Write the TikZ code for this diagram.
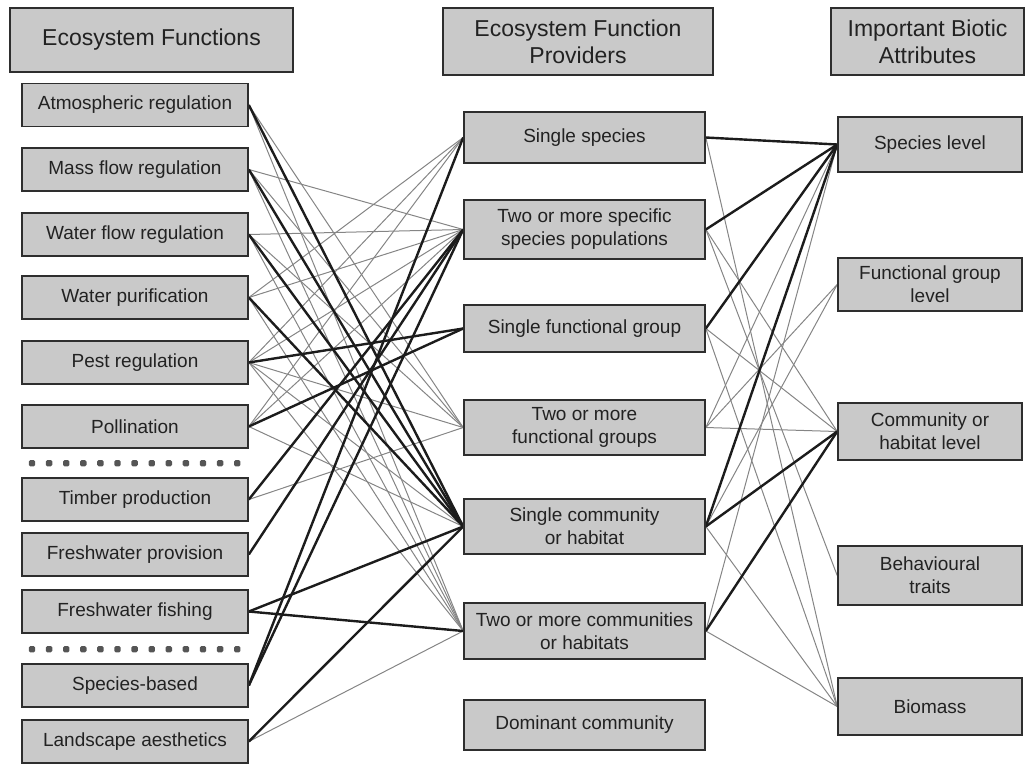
\documentclass[tikz,border=0pt]{standalone}
\usepackage{fontspec}
\setmainfont{Liberation Sans}
\usetikzlibrary{backgrounds}
\definecolor{boxfill}{HTML}{C9C9C9}
\definecolor{boxline}{HTML}{2E2E2E}
\definecolor{txt}{HTML}{222222}
\definecolor{thickc}{HTML}{1C1C1C}
\definecolor{thinc}{HTML}{858585}
\definecolor{dotc}{HTML}{555555}
\tikzset{
  box/.style={draw=boxline, line width=1.6pt, fill=boxfill, text=txt, align=center, inner sep=0pt,
     font=\fontsize{19}{23}\selectfont},
  head/.style={box, font=\fontsize{23}{27}\selectfont},
  lbox/.style={box, minimum width=226pt, minimum height=43pt},
  mbox/.style={box, minimum width=241pt},
  rbox/.style={box, minimum width=184pt},
  strong/.style={draw=thickc, line width=2.4pt},
  weak/.style={draw=thinc, line width=1pt},
}
\begin{document}
\begin{tikzpicture}[x=1pt,y=-1pt]
\useasboundingbox (0,0) rectangle (1032,764);
% headers
\node[head, minimum width=283pt, minimum height=64pt] (H1) at (151.5,40) {Ecosystem Functions};
\node[head, minimum width=270pt, minimum height=67pt] (H2) at (578,41.5) {Ecosystem Function\\Providers};
\node[head, minimum width=193pt, minimum height=67pt] (H3) at (927.5,41.5) {Important Biotic\\Attributes};
% left column
\node[lbox] (AR) at (135,105) {Atmospheric regulation};
\node[lbox] (MF) at (135,169.5) {Mass flow regulation};
\node[lbox] (WF) at (135,234.5) {Water flow regulation};
\node[lbox] (WP) at (135,297.5) {Water purification};
\node[lbox] (PR) at (135,362.5) {Pest regulation};
\node[lbox] (PO) at (135,426.5) {Pollination};
\node[lbox] (TP) at (135,499.5) {Timber production};
\node[lbox] (FP) at (135,554.5) {Freshwater provision};
\node[lbox] (FF) at (135,611.5) {Freshwater fishing};
\node[lbox] (SB) at (135,685.5) {Species-based};
\node[lbox] (LA) at (135,741.5) {Landscape aesthetics};
% dotted separators
\foreach \i in {0,...,12} {
  \fill[dotc, rounded corners=1.5pt] ({32+17.1*\i-3.2},460) rectangle ++(6.4,6.4);
  \fill[dotc, rounded corners=1.5pt] ({32+17.1*\i-3.2},646) rectangle ++(6.4,6.4);
}
% middle column
\node[mbox, minimum height=51pt] (SS) at (584.5,137.5) {Single species};
\node[mbox, minimum height=59pt] (TS) at (584.5,229.5) {Two or more specific\\species populations};
\node[mbox, minimum height=47pt] (SFG) at (584.5,328.5) {Single functional group};
\node[mbox, minimum height=55pt] (TFG) at (584.5,427.5) {Two or more\\functional groups};
\node[mbox, minimum height=55pt] (SC) at (584.5,526.5) {Single community\\or habitat};
\node[mbox, minimum height=56pt] (TC) at (584.5,631) {Two or more communities\\or habitats};
\node[mbox, minimum height=50pt] (DC) at (584.5,725) {Dominant community};
% right column
\node[rbox, minimum height=55pt] (SL) at (930,144.5) {Species level};
\node[rbox, minimum height=53pt] (FGL) at (930,284.5) {Functional group\\level};
\node[rbox, minimum height=57pt] (CL) at (930,431.5) {Community or\\habitat level};
\node[rbox, minimum height=59pt] (BT) at (930,575.5) {Behavioural\\traits};
\node[rbox, minimum height=57pt] (BM) at (930,706.5) {Biomass};
\begin{pgfonlayer}{background}
% left -> middle, thin
\foreach \a/\b in {AR/TFG, AR/TC, MF/TS, MF/TFG, MF/TC, WF/TS, WF/TFG, WF/TC,
   WP/SS, WP/TS, WP/TC, PR/SS, PR/TS, PR/TFG, PR/SC, PR/TC, PO/SS, PO/TS, PO/SC,
   TP/TFG, LA/TC}
  \draw[weak] (\a.east) -- (\b.west);
% left -> middle, thick
\foreach \a/\b in {AR/SC, MF/SC, WF/SC, WP/SC, PR/SFG, PO/SFG, TP/TS, FP/TS,
   FF/SC, FF/TC, SB/SS, SB/TS, LA/SC}
  \draw[strong] (\a.east) -- (\b.west);
% middle -> right, thin
\foreach \a/\b in {SS/BM, TS/CL, TS/BT, SFG/CL, SFG/BM, TFG/SL, TFG/FGL, TFG/CL,
   SC/FGL, SC/BM, TC/SL, TC/BM}
  \draw[weak] (\a.east) -- (\b.west);
% middle -> right, thick
\foreach \a/\b in {SS/SL, TS/SL, SFG/SL, SC/SL, SC/CL, TC/CL}
  \draw[strong] (\a.east) -- (\b.west);
\end{pgfonlayer}
\end{tikzpicture}
\end{document}
